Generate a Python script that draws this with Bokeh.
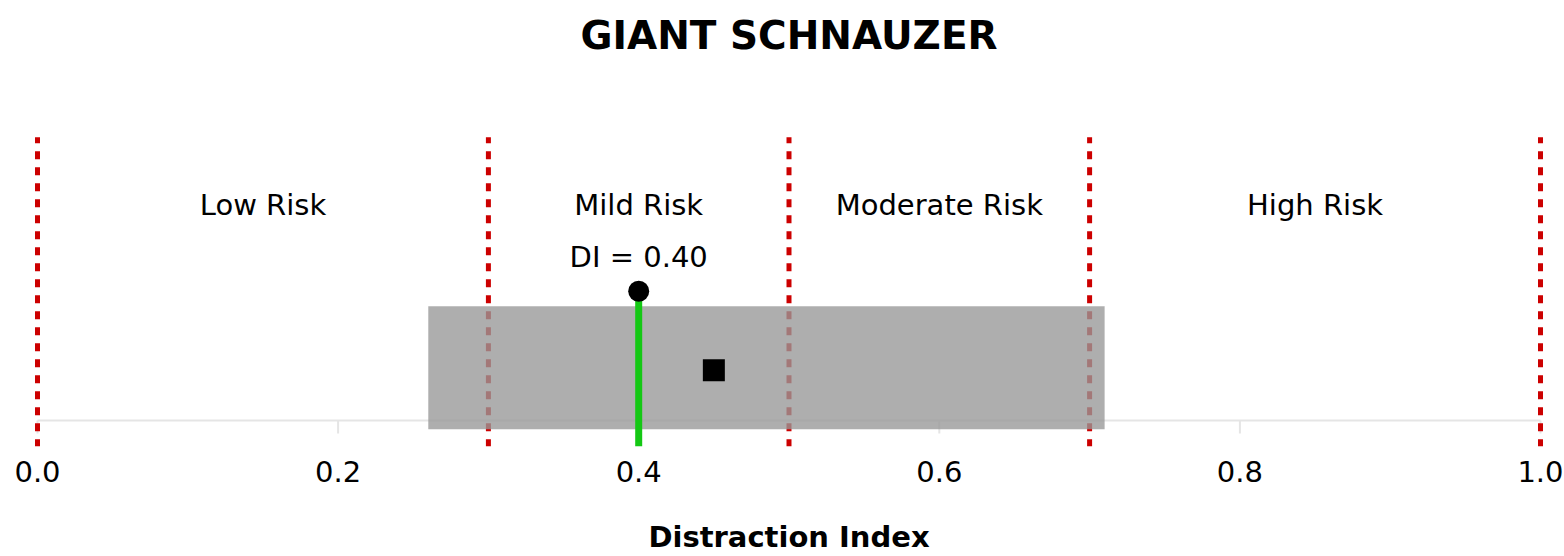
from bokeh.plotting import figure
from bokeh.models import Range1d, FixedTicker, PrintfTickFormatter
from bokeh.core.properties import value
from bokeh.embed import file_html
from bokeh.resources import INLINE

# ---- data ----
breed = "GIANT SCHNAUZER"
di_value = 0.40
range_low = 0.26
range_high = 0.71
mean_value = 0.45
thresholds = [0.0, 0.3, 0.5, 0.7, 1.0]
zone_names = ["Low Risk", "Mild Risk", "Moderate Risk", "High Risk"]
zone_centers = [(thresholds[i] + thresholds[i + 1]) / 2 for i in range(4)]
tick_values = [0.0, 0.2, 0.4, 0.6, 0.8, 1.0]

FONT = "DejaVu Sans"
Y0, Y1 = -0.2524, 4.078   # frame spans full height above the axis
LINE_TOP = 2.75
PAD = 0.002

p = figure(width=1564, height=556, output_backend="svg", toolbar_location=None,
           x_range=Range1d(-PAD, 1 + PAD), y_range=Range1d(Y0, Y1),
           min_border_left=34, min_border_right=21, min_border_top=0, min_border_bottom=110)
p.outline_line_color = None
p.grid.visible = False
p.yaxis.visible = False

# title
p.text(x=[0.5], y=[3.738], text=[breed], text_align="center", text_baseline="middle",
       text_font=value(FONT), text_font_size="39px", text_font_style="bold", text_color="black")

# baseline and ticks
p.line(x=[0, 1], y=[0, 0], line_color="#e5e5e5", line_width=2)
p.segment(x0=tick_values, x1=tick_values, y0=[0] * len(tick_values), y1=[-0.126] * len(tick_values),
          line_color="#e5e5e5", line_width=2)

# threshold lines
p.segment(x0=thresholds, x1=thresholds, y0=[LINE_TOP] * 5, y1=[Y0] * 5,
          line_color="#cc0000", line_width=5, line_dash="8 8", line_dash_offset=2)

# range box
p.quad(left=[range_low], right=[range_high], top=[1.109], bottom=[-0.085],
       fill_color="#989898", fill_alpha=0.79, line_color=None)

# DI line and marker
p.segment(x0=[di_value], x1=[di_value], y0=[1.255], y1=[Y0], line_color="#14c814", line_width=7)
p.scatter(x=[di_value], y=[1.255], size=21, marker="circle", fill_color="black", line_color=None)
p.scatter(x=[mean_value], y=[0.488], size=22, marker="square", fill_color="black", line_color=None)

# labels
p.text(x=zone_centers, y=[2.09] * 4, text=zone_names, text_align="center", text_baseline="middle",
       text_font=value(FONT), text_font_size="29px", text_color="black")
p.text(x=[di_value], y=[1.585], text=["DI = %.2f" % di_value], text_align="center", text_baseline="middle",
       text_font=value(FONT), text_font_size="29px", text_color="black")

ax = p.xaxis[0]
ax.ticker = FixedTicker(ticks=tick_values)
ax.formatter = PrintfTickFormatter(format="%.1f")
ax.axis_line_color = None
ax.major_tick_line_color = None
ax.minor_tick_line_color = None
ax.major_label_text_font = FONT
ax.major_label_text_font_size = "29px"
ax.major_label_text_color = "black"
ax.major_label_standoff = 8
ax.axis_label = "Distraction Index"
ax.axis_label_text_font = FONT
ax.axis_label_text_font_size = "29px"
ax.axis_label_text_font_style = "bold"
ax.axis_label_text_color = "black"
ax.axis_label_standoff = 35

open("out.html", "w").write(file_html(p, INLINE))
